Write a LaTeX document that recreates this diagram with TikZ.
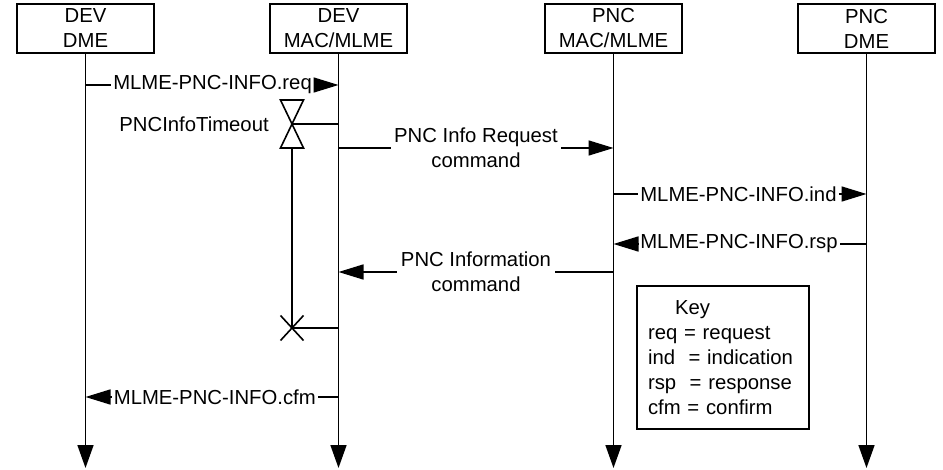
\documentclass[tikz,border=0pt]{standalone}
\usepackage{fontspec}
\setmainfont{Liberation Sans}
\usetikzlibrary{arrows.meta,positioning,calc}

\begin{document}
\begin{tikzpicture}[
    x=1pt, y=-1pt,
    font=\fontsize{20.3}{25}\selectfont,
    line width=1.6pt,
    head/.style={draw, minimum width=137pt, minimum height=49pt, inner sep=0pt, align=center},
    life/.style={-{Triangle[length=23pt,width=16pt]}},
    arr/.style={-{Triangle[length=25pt,width=15pt]}},
    msg/.style={inner sep=1.5pt},
    midlbl/.style={fill=white, inner sep=3.5pt, align=center},
    keybox/.style={draw, text width=150pt, inner xsep=11pt, minimum height=143pt, align=left}
  ]
  \useasboundingbox (0,0) rectangle (943,470);

  % entities and lifelines
  \node[head] (devdme) at (85.5,28.5) {DEV\\DME};
  \node[head] (devmac) at (338.5,28.5) {DEV\\MAC/MLME};
  \node[head] (pncmac) at (613.5,28.5) {PNC\\MAC/MLME};
  \node[head] (pncdme) at (866.5,28.5) {PNC\\DME};
  \coordinate (devdme-end) at (85.5,468);
  \coordinate (devmac-end) at (338.5,468);
  \coordinate (pncmac-end) at (613.5,468);
  \coordinate (pncdme-end) at (866.5,468);
  \draw[life] (devdme.south) -- (devdme-end);
  \draw[life] (devmac.south) -- (devmac-end);
  \draw[life] (pncmac.south) -- (pncmac-end);
  \draw[life] (pncdme.south) -- (pncdme-end);

  % MLME-PNC-INFO.req
  \coordinate (req-a) at (85.5,85);
  \coordinate (req-b) at (338.5,85);
  \node[msg, anchor=west] (reqtxt) at (111,85) {MLME-PNC-INFO.req};
  \draw (req-a) -- (reqtxt.west);
  \draw[arr] (reqtxt.east) -- (req-b);

  % timer
  \coordinate (tmr) at (292,124);
  \coordinate (tmr-r) at (338.5,124);
  \coordinate (tmr-bot) at (292,148);
  \coordinate (tmr-x) at (292,328);
  \coordinate (tmr-xr) at (338.5,328);
  \draw (tmr) ++(-11.5,-24) -- ++(23,0) -- ++(-23,48) -- ++(23,0) -- cycle;
  \draw (tmr) -- (tmr-r);
  \node[msg, anchor=east] (tmrlbl) at (271,124) {PNCInfoTimeout};
  \draw (tmr-bot) -- (tmr-x);
  \draw (tmr-x) ++(-11.5,-12.5) -- ++(23,25) (tmr-x) ++(-11.5,12.5) -- ++(23,-25);
  \draw (tmr-x) -- (tmr-xr);

  % PNC Info Request command
  \coordinate (pir-a) at (338.5,148);
  \coordinate (pir-b) at (613.5,148);
  \draw[arr] (pir-a) -- node[midlbl] (pirlbl) {PNC Info Request\\command} (pir-b);

  % MLME-PNC-INFO.ind
  \coordinate (ind-a) at (613.5,194);
  \coordinate (ind-b) at (866.5,194);
  \node[msg, anchor=west] (indtxt) at (638,194) {MLME-PNC-INFO.ind};
  \draw (ind-a) -- (indtxt.west);
  \draw[arr] (indtxt.east) -- (ind-b);

  % MLME-PNC-INFO.rsp
  \coordinate (rsp-a) at (866.5,244);
  \coordinate (rsp-b) at (613.5,244);
  \node[msg, anchor=west] (rsptxt) at (638,244) {MLME-PNC-INFO.rsp};
  \draw (rsp-a) -- (rsptxt.east);
  \draw[arr] (rsptxt.west) -- (rsp-b);

  % PNC Information command
  \coordinate (pic-a) at (613.5,272);
  \coordinate (pic-b) at (338.5,272);
  \draw[arr] (pic-a) -- node[midlbl] (piclbl) {PNC Information\\command} (pic-b);

  % MLME-PNC-INFO.cfm
  \coordinate (cfm-a) at (338.5,397);
  \coordinate (cfm-b) at (85.5,397);
  \node[msg, anchor=east] (cfmtxt) at (318,397) {MLME-PNC-INFO.cfm};
  \draw (cfm-a) -- (cfmtxt.east);
  \draw[arr] (cfmtxt.west) -- (cfm-b);

  % key
  \node[keybox] (key) at (723,357.5) {\hspace*{27pt}Key\\req = request\\ind \ = indication\\rsp \ = response\\cfm = confirm};
\end{tikzpicture}
\end{document}
